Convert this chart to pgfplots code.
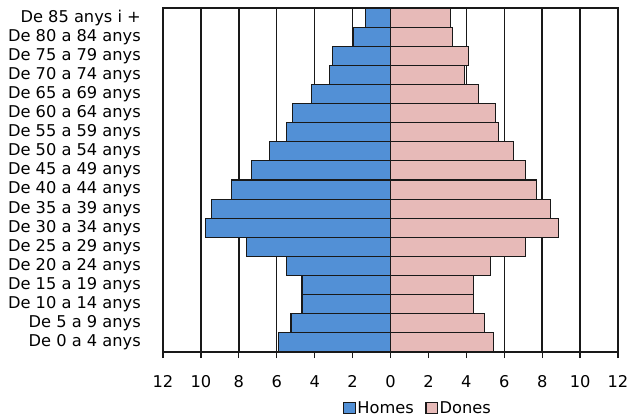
\documentclass[border=0pt]{standalone}
\usepackage{fontspec}
\setmainfont{DejaVu Sans}
\usepackage{pgfplots}
\pgfplotsset{compat=1.18}
\usepackage{pgfplotstable}
\definecolor{homes}{RGB}{82,144,214}
\definecolor{dones}{RGB}{231,186,184}
\definecolor{edge}{RGB}{25,25,25}
\pgfplotstableread{
idx homes dones
0 -5.89 5.44
1 -5.25 4.96
2 -4.67 4.39
3 -4.67 4.39
4 -5.49 5.28
5 -7.60 7.12
6 -9.77 8.86
7 -9.46 8.44
8 -8.40 7.72
9 -7.35 7.12
10 -6.37 6.49
11 -5.49 5.68
12 -5.16 5.53
13 -4.17 4.63
14 -3.23 3.89
15 -3.05 4.12
16 -1.98 3.25
17 -1.33 3.16
}\data
\begin{document}
\begin{tikzpicture}
\begin{axis}[
  at={(0,0)}, anchor=south west,
  scale only axis, width=455bp, height=344bp,
  xmin=-12, xmax=12, ymin=-0.5, ymax=17.5,
  xbar, bar width=1, bar shift=0pt,
  xtick={-12,-10,...,12},
  xticklabels={12,10,8,6,4,2,0,2,4,6,8,10,12},
  ytick={0,...,17},
  yticklabels={De 0 a 4 anys, De 5 a 9 anys, De 10 a 14 anys, De 15 a 19 anys, De 20 a 24 anys, De 25 a 29 anys, De 30 a 34 anys, De 35 a 39 anys, De 40 a 44 anys, De 45 a 49 anys, De 50 a 54 anys, De 55 a 59 anys, De 60 a 64 anys, De 65 a 69 anys, De 70 a 74 anys, De 75 a 79 anys, De 80 a 84 anys, De 85 anys i +},
  xmajorgrids, major grid style={edge, line width=1.4bp},
  tick align=outside, xtick pos=left, ytick pos=left,
  major tick length=6bp,
  xtick style={edge, line width=1.2bp},
  ytick style={draw=none},
  axis line style={edge, line width=1.3bp},
  font=\fontsize{16.3}{19}\selectfont,
  /pgf/number format/assume math mode=true,
  yticklabel style={inner sep=0pt, anchor=east},
  yticklabel shift=16bp,
  xticklabel style={inner sep=0pt, anchor=north},
  xticklabel shift=17bp,
  legend style={at={(axis description cs:0.56,-0.1395)}, anchor=north, draw=none, fill=none,
    legend columns=2, inner sep=0pt, nodes={inner sep=1.5bp},
    /tikz/every even column/.append style={column sep=10bp}},
  legend image code/.code={\draw[#1] (0bp,-5.5bp) rectangle (11.5bp,5.5bp);},
]
\addplot[fill=homes, draw=edge, line width=1.2bp] table[x=homes, y=idx] {\data};
\addlegendentry{Homes}
\addplot[fill=dones, draw=edge, line width=1.2bp] table[x=dones, y=idx] {\data};
\addlegendentry{Dones}
\end{axis}
\pgfresetboundingbox
\path (-163bp,-66bp) rectangle (468bp,352bp);
\end{tikzpicture}
\end{document}
